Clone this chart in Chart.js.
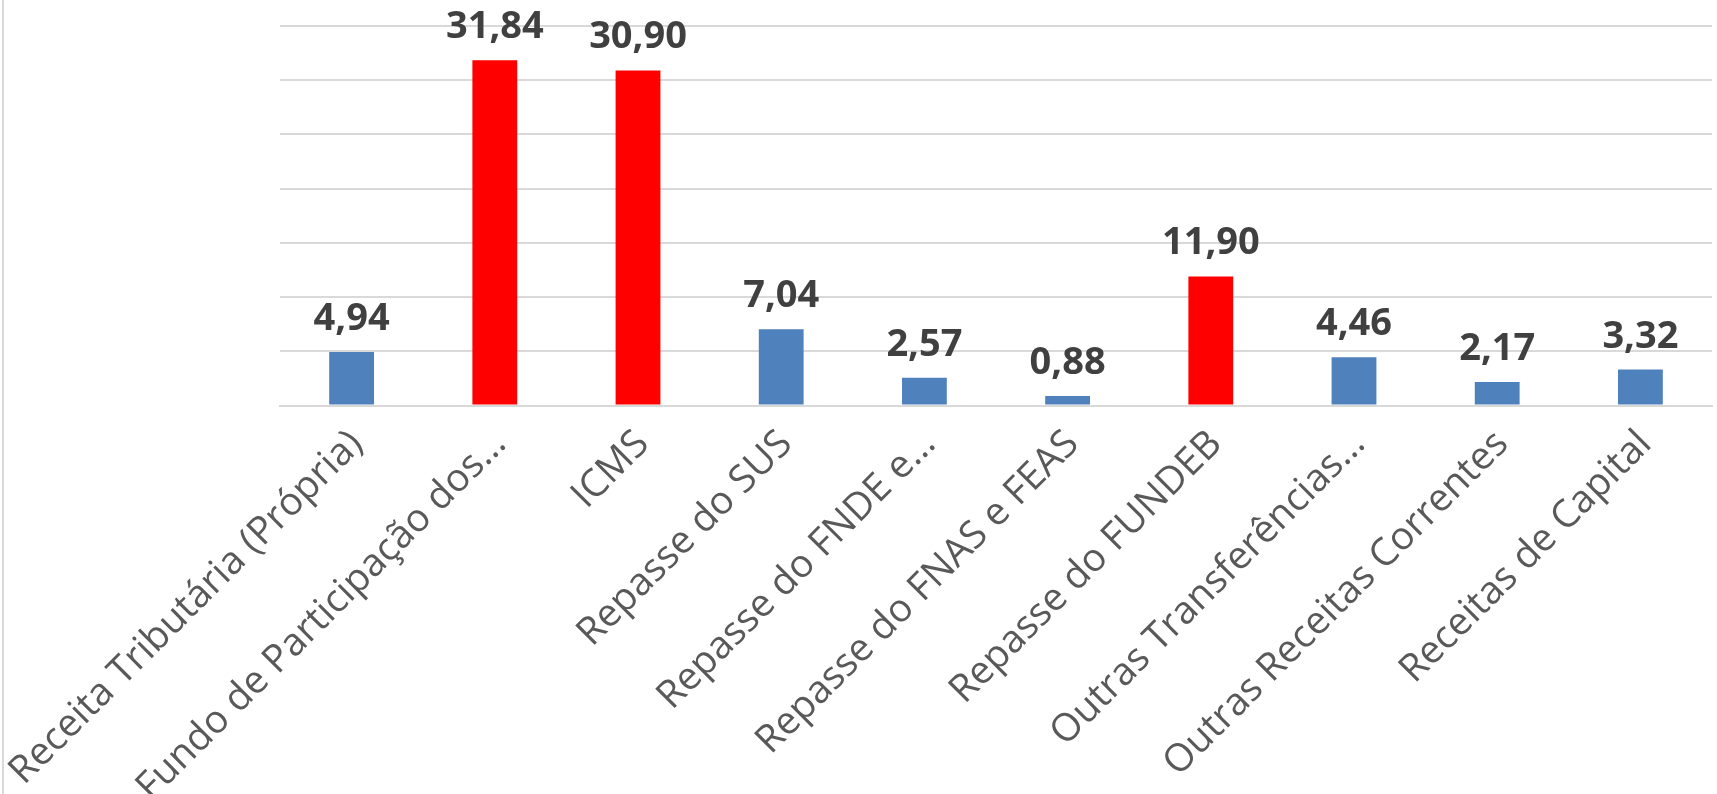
<!DOCTYPE html>
<html>
<head>
<meta charset="utf-8">
<script src="https://cdn.jsdelivr.net/npm/chart.js@4.4.1/dist/chart.umd.min.js"></script>
<style>
html,body{margin:0;padding:0;background:#fff;}
#wrap{position:relative;width:1717px;height:794px;}
</style>
</head>
<body>
<div id="wrap"><canvas id="c" width="1717" height="794"></canvas></div>
<script>
const categories = [
  "Receita Tributária (Própria)",
  "Fundo de Participação dos…",
  "ICMS",
  "Repasse do SUS",
  "Repasse do FNDE e…",
  "Repasse do FNAS e FEAS",
  "Repasse do FUNDEB",
  "Outras Transferências…",
  "Outras Receitas Correntes",
  "Receitas de Capital"
];
const values = [4.94, 31.84, 30.90, 7.04, 2.57, 0.88, 11.90, 4.46, 2.17, 3.32];
const highlighted = [false, true, true, false, false, false, true, false, false, false];
const yTicks = [0, 5, 10, 15, 20, 25, 30, 35];

const BLUE = '#4F81BD', RED = '#FF0000';

const valueLabels = {
  id: 'valueLabels',
  afterDatasetsDraw(chart) {
    const ctx = chart.ctx;
    const meta = chart.getDatasetMeta(0);
    ctx.save();
    ctx.font = 'bold 38px "Open Sans"';
    ctx.fillStyle = '#404040';
    ctx.textAlign = 'center';
    ctx.textBaseline = 'alphabetic';
    meta.data.forEach((bar, i) => {
      const txt = values[i].toFixed(2).replace('.', ',');
      ctx.fillText(txt, bar.x, bar.y - 22);
    });
    ctx.restore();
  }
};

const frame = {
  id: 'frame',
  beforeDraw(chart) {
    const ctx = chart.ctx;
    ctx.save();
    ctx.fillStyle = '#d9d9d9';
    ctx.fillRect(2, 0, 2, chart.height);
    ctx.restore();
  }
};

new Chart(document.getElementById('c'), {
  type: 'bar',
  data: {
    labels: categories,
    datasets: [{
      data: values,
      backgroundColor: highlighted.map(h => h ? RED : BLUE),
      borderWidth: 0,
      categoryPercentage: 1,
      barPercentage: 0.313
    }]
  },
  options: {
    responsive: false,
    animation: false,
    devicePixelRatio: 1,
    layout: { padding: { left: 280, right: 5, top: 26, bottom: 0 } },
    plugins: { legend: { display: false }, tooltip: { enabled: false } },
    scales: {
      x: {
        grid: { display: false },
        border: { display: true, color: '#d9d9d9', width: 2 },
        ticks: {
          autoSkip: false,
          minRotation: 45,
          maxRotation: 45,
          color: '#595959',
          font: { family: 'Open Sans', size: 38.5 },
          labelOffset: 5,
          padding: 8
        },
        afterFit(scale) { scale.paddingLeft = 0; scale.paddingRight = 0; scale.height = 794 - 405.5; }
      },
      y: {
        min: 0,
        max: 35,
        afterBuildTicks(scale) { scale.ticks = yTicks.map(v => ({ value: v })); },
        ticks: { display: false },
        grid: { color: '#d9d9d9', lineWidth: 2, drawTicks: false },
        border: { display: false },
        afterFit(scale) { scale.width = 0; }
      }
    }
  },
  plugins: [frame, valueLabels]
});
</script>
</body>
</html>
